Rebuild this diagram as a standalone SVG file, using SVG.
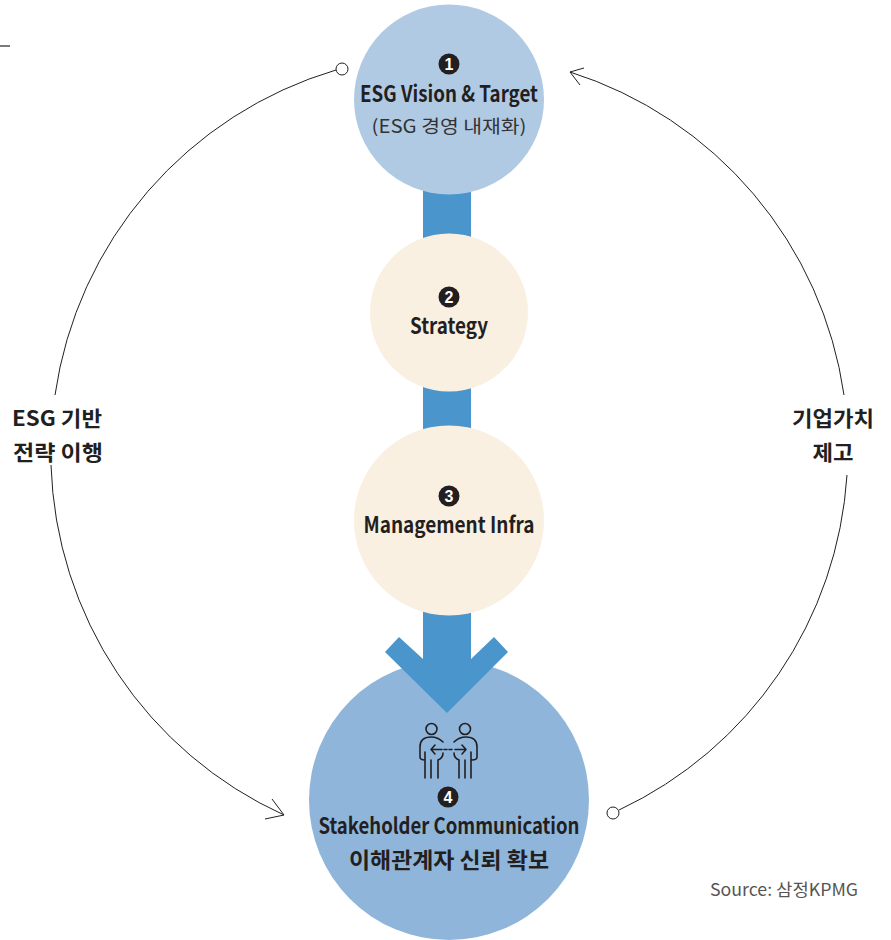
<svg xmlns="http://www.w3.org/2000/svg" width="891" height="940" viewBox="0 0 891 940">
<style>
text{font-family:"Noto Sans CJK KR","Noto Sans",sans-serif;fill:#231f20;text-anchor:middle}
.b{font-weight:700;font-size:22px}
.r{font-weight:400;font-size:18px;fill:#333}
.s{font-weight:700;font-size:21px}
.d{fill:#231f20}
.n{font-family:"Liberation Sans Narrow","Liberation Sans",sans-serif;font-weight:700;font-size:16px;fill:#fff}
.c{fill:none;stroke:#231f20;stroke-width:1}
.i{fill:none;stroke:#231f20;stroke-width:1.6;stroke-linecap:round;stroke-linejoin:round}
</style>
<rect width="891" height="940" fill="#fff"/>
<path d="M0 46H10" stroke="#231f20" stroke-width="1.2"/>
<g id="connectors">
<path class="c" d="M336 70A398 398 0 0 0 55 395"/>
<circle class="c" cx="342" cy="69" r="6" fill="#fff"/>
<path class="c" d="M51 465A398 398 0 0 0 284 815M272 799L284 815L265 819"/>
<path class="c" d="M570 72A398 398 0 0 1 844 395M584 68L570 72L580 85"/>
<path class="c" d="M847 475A398 398 0 0 1 619 810"/>
<circle class="c" cx="613" cy="813" r="6" fill="#fff"/>
</g>
<g id="node4"><circle cx="449" cy="800" r="140" fill="#8fb5da"/></g>
<g id="shaft">
<rect x="423" y="190" width="48" height="50" fill="#4a95cb"/>
<rect x="423" y="385" width="48" height="45" fill="#4a95cb"/>
<path d="M423 610H471V659L494 637L508 652L447 713L385 652L399 637L423 659Z" fill="#4a95cb"/>
</g>
<g id="node1"><circle cx="449" cy="99.500" r="95" fill="#b1cae4"/>
<circle class="d" cx="449" cy="64" r="10.500"/>
<text class="n" x="449" y="70">1</text>
<text class="b" x="449" y="102" textLength="178" lengthAdjust="spacingAndGlyphs">ESG Vision &amp; Target</text>
<text class="r" x="449" y="133" textLength="155" lengthAdjust="spacingAndGlyphs">(ESG 경영 내재화)</text></g>
<g id="node2"><circle cx="449" cy="312.500" r="79" fill="#f9f0e2"/>
<circle class="d" cx="449" cy="297" r="10.500"/>
<text class="n" x="449" y="303">2</text>
<text class="b" x="449" y="334" textLength="78" lengthAdjust="spacingAndGlyphs">Strategy</text></g>
<g id="node3"><circle cx="449" cy="520.500" r="95" fill="#f9f0e2"/>
<circle class="d" cx="449" cy="496" r="10.500"/>
<text class="n" x="449" y="502">3</text>
<text class="b" x="449" y="533" textLength="171" lengthAdjust="spacingAndGlyphs">Management Infra</text></g>
<g id="node4-content">
<g class="i">
<circle cx="431.500" cy="729" r="5.500"/><circle cx="465" cy="729" r="5.500"/>
<path d="M443 742Q438 737 431 737Q420 737 420 747V757Q420 760 425 760M425 752V778M431 760V778M438 760V778M443 753Q443 758 438 760"/>
<path d="M454 742Q459 737 466 737Q477 737 477 747V757Q477 760 472 760M471 752V778M465 760V778M459 760V778M454 753Q454 758 459 760"/>
<path d="M435 745L431 749.500L435 754M431 749.500H442M455 749.500H466M462 745L466 749.500L462 754"/>
<path d="M444 749.500H454" stroke-dasharray="3 2"/>
</g>
<circle class="d" cx="448" cy="797" r="10.500"/>
<text class="n" x="448" y="803">4</text>
<text class="b" x="449" y="834" textLength="261" lengthAdjust="spacingAndGlyphs">Stakeholder Communication</text>
<text class="b" x="449" y="868" textLength="200" lengthAdjust="spacingAndGlyphs">이해관계자 신뢰 확보</text></g>
<g id="label-left">
<text class="s" x="57" y="426" textLength="90" lengthAdjust="spacingAndGlyphs">ESG 기반</text>
<text class="s" x="58" y="460" textLength="90" lengthAdjust="spacingAndGlyphs">전략 이행</text></g>
<g id="label-right">
<text class="s" x="833" y="426" textLength="82" lengthAdjust="spacingAndGlyphs">기업가치</text>
<text class="s" x="833" y="460" textLength="41" lengthAdjust="spacingAndGlyphs">제고</text></g>
<text class="r" x="784" y="896" style="font-size:17px;fill:#555" textLength="148" lengthAdjust="spacingAndGlyphs">Source: 삼정KPMG</text>
</svg>
